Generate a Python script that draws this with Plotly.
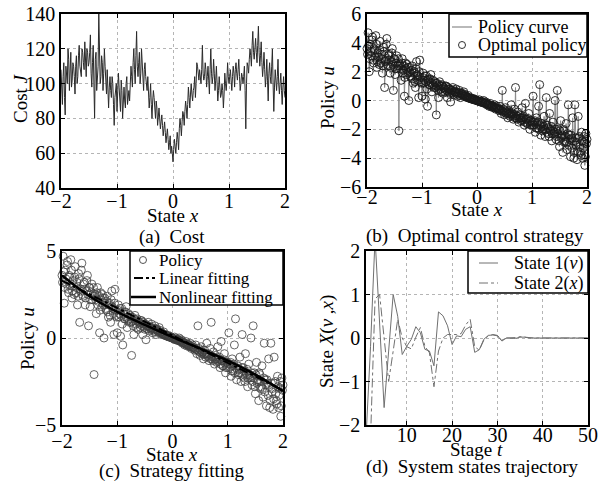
import numpy as np
import plotly.graph_objects as go

# ---------------- data ----------------
X_LIMITS = [-2.0, 2.0]

# (a) cost J at x = -2.000, -1.975, ..., 2.000
cost_J_even = [
    108, 88, 112, 82, 104, 120, 96, 118, 102, 110,
    94, 116, 104, 122, 108, 120, 112, 124, 104, 118,
    112, 128, 98, 122, 80, 118, 104, 140, 100, 116,
    96, 120, 100, 108, 86, 104, 92, 100, 76, 96,
    84, 106, 90, 102, 80, 98, 86, 104, 94, 90,
    110, 98, 120, 100, 130, 104, 118, 106, 114, 96,
    112, 100, 104, 86, 100, 80, 96, 84, 90, 76,
    86, 74, 82, 70, 78, 66, 74, 62, 70, 64,
    55, 68, 60, 72, 62, 80, 70, 84, 76, 90,
    80, 98, 86, 100, 90, 98, 92, 112, 104, 108,
    100, 122, 102, 112, 98, 110, 94, 120, 100, 114,
    96, 110, 90, 104, 92, 100, 86, 106, 96, 112,
    100, 108, 96, 110, 98, 112, 102, 114, 96, 106,
    100, 110, 74, 112, 106, 120, 110, 130, 114, 126,
    112, 133, 110, 124, 104, 118, 98, 114, 90, 112,
    100, 120, 84, 108, 96, 114, 94, 106, 88, 104,
    92,
]
# (a) cost J at the midpoints x = -1.9875, -1.9625, ..., 1.9875
cost_J_odd = [
    96, 104, 92, 110, 100, 114, 106, 98, 112, 104,
    110, 100, 116, 110, 104, 118, 108, 114, 120, 110,
    118, 106, 112, 100, 114, 96, 110, 118, 104, 112,
    106, 110, 94, 100, 98, 96, 104, 88, 92, 100,
    94, 98, 84, 96, 92, 90, 100, 88, 96, 102,
    104, 112, 108, 116, 110, 112, 100, 120, 104, 108,
    104, 96, 94, 92, 88, 90, 92, 80, 86, 82,
    80, 78, 76, 74, 72, 70, 68, 66, 60, 60,
    62, 64, 66, 68, 74, 76, 78, 82, 84, 86,
    88, 92, 94, 94, 96, 104, 100, 110, 102, 104,
    108, 106, 104, 108, 104, 102, 108, 106, 104, 106,
    102, 100, 96, 98, 94, 96, 94, 100, 102, 104,
    104, 102, 104, 106, 108, 106, 108, 104, 100, 104,
    104, 96, 100, 110, 114, 116, 122, 118, 120, 118,
    122, 118, 116, 112, 110, 108, 104, 102, 106, 104,
    110, 100, 98, 102, 104, 100, 100, 96, 98, 96,
]

# (b)/(c) optimal policy u: values at x = -2.00, -1.98, ..., 2.00
policy_u_even = [
    3.6, 4.7, 2.0, 3.9, 3.1, 4.4, 2.6, 3.5, 4.5, 2.3,
    3.3, 2.5, 4.1, 2.9, 1.9, 3.7, 0.9, 2.8, 4.3, 2.4,
    3.2, 1.9, 2.7, 3.6, 0.7, 2.9, 2.2, 3.1, 2.4, -2.1,
    2.5, 1.4, 2.9, 2.1, 0.3, 2.6, 1.8, 2.3, 0.0, 2.0,
    1.6, 2.4, 1.2, 2.0, 0.9, 2.7, 1.7, 0.2, 2.8, 1.3,
    0.3, 1.9, 1.4, 0.1, 1.7, -0.4, 1.5, 1.1, 1.8, 0.6,
    1.4, 0.9, 1.2, -1.0, 1.0, 0.2, 1.3, 0.8, 1.1, 0.5,
    0.9, 0.6, 1.0, 0.2, 0.8, 0.5, -0.1, 0.7, 0.9, 0.4,
    0.6, 0.8, 0.3, 0.5, 0.7, 0.2, 0.5, 0.4, 0.6, 0.3,
    0.3, 0.2, 0.35, 0.15, 0.2, 0.1, 0.15, 0.05, 0.1, 0.02,
    0.0, -0.05, 0.05, -0.1, -0.05, -0.15, 0.0, -0.2, -0.1, -0.3,
    -0.25, -0.4, -0.2, -0.45, -0.35, -0.5, -0.3, -0.6, -0.4, -0.55,
    -0.7, -0.4, -0.9, 0.7, -0.6, -1.0, -0.5, -0.8, -1.2, -0.7,
    -1.1, -0.3, -0.9, -1.3, -0.6, 0.9, -1.2, -0.8, -1.5, -1.0,
    -1.4, -0.5, -1.2, -1.7, -0.2, -1.3, -1.6, -0.9, -2.0, -1.4,
    -1.7, 0.3, -1.5, -2.2, -1.2, -1.9, -0.4, 1.1, -2.4, -1.6,
    -2.0, -1.1, -2.5, 0.2, -1.7, -2.3, -0.9, -2.1, -2.8, -1.5,
    -2.3, 0.0, -2.7, 0.7, -2.0, -3.2, -1.4, -2.5, -3.6, -2.1,
    -2.8, -1.6, -3.4, -0.3, -2.4, -3.9, -2.6, -1.2, -4.0, -0.3,
    -3.1, -4.1, -1.1, -2.5, -3.6, -2.2, -4.0, -2.9, -4.5, -2.3,
    -2.7,
]
# values at x = -1.99, -1.97, ..., 1.99
policy_u_odd = [
    3.2, 3.8, 2.9, 3.4, 4.2, 2.8, 3.6, 3.0, 3.9, 2.7,
    3.0, 3.5, 2.6, 3.2, 2.4, 3.4, 2.7, 3.9, 2.5, 3.1,
    2.8, 2.3, 3.3, 2.5, 2.9, 1.8, 2.6, 2.2, 2.9, 2.4,
    2.2, 2.6, 1.9, 2.4, 1.6, 2.2, 2.5, 1.9, 2.3, 1.7,
    2.1, 1.5, 1.9, 1.3, 2.2, 1.8, 1.4, 2.0, 1.6, 1.2,
    1.6, 1.2, 1.7, 1.3, 0.8, 1.4, 1.1, 1.5, 1.2, 1.0,
    1.1, 1.3, 0.9, 1.2, 0.7, 1.1, 1.0, 0.6, 1.0, 0.9,
    0.8, 1.0, 0.7, 0.9, 0.6, 0.8, 0.7, 0.5, 0.7, 0.6,
    0.5, 0.6, 0.45, 0.55, 0.35, 0.5, 0.4, 0.3, 0.45, 0.35,
    0.25, 0.2, 0.2, 0.15, 0.12, 0.1, 0.1, 0.05, 0.05, 0.0,
    -0.02, -0.05, -0.08, -0.1, -0.12, -0.1, -0.15, -0.2, -0.2, -0.25,
    -0.3, -0.3, -0.35, -0.4, -0.4, -0.45, -0.5, -0.5, -0.55, -0.6,
    -0.6, -0.65, -0.7, -0.75, -0.8, -0.7, -0.9, -0.85, -0.95, -0.9,
    -0.9, -1.0, -1.1, -0.95, -1.2, -1.05, -1.3, -1.1, -1.25, -1.2,
    -1.2, -1.35, -1.1, -1.5, -1.3, -1.6, -1.25, -1.45, -1.7, -1.4,
    -1.5, -1.7, -1.4, -1.9, -1.6, -1.5, -2.0, -1.7, -1.8, -2.1,
    -1.8, -2.0, -1.7, -2.2, -1.9, -2.5, -2.0, -1.8, -2.3, -2.1,
    -2.2, -2.0, -2.5, -2.3, -2.8, -2.1, -2.6, -2.4, -2.0, -2.9,
    -2.5, -2.9, -2.3, -3.1, -2.7, -2.4, -3.3, -2.8, -3.6, -2.6,
    -2.9, -3.5, -2.6, -3.2, -3.8, -2.8, -3.3, -2.5, -3.9, -3.0,
]

# (c) fitted strategies
lin_fit_x = [-2.0, 2.0]
lin_fit_u = [3.3, -3.0]
nl_fit_x = [-2.0, -1.5, -1.0, -0.5, 0.0, 0.5, 1.0, 1.5, 2.0]
nl_fit_u = [3.6, 2.4, 1.5, 0.75, 0.05, -0.6, -1.3, -2.1, -3.05]

# (d) system states trajectory
stage_t = list(range(1, 51))
state1_v = [
    -2.3, -0.2, 2.3, 0.2, -1.6, -0.3, 1.0, 0.5, -0.38, -0.19,
    -0.03, 0.26, 0.12, -0.26, -0.3, -0.64, 0.6, 0.51, 0.28, -0.15,
    0.05, 0.03, 0.2, 0.26, -0.33, -0.27, -0.03, 0.06, 0.07, 0.05,
    -0.07, 0.0, 0.0, -0.01, 0.02, 0.02, 0.0, 0.0, 0.0, 0.0,
    0.0, 0.0, 0.0, 0.0, 0.0, 0.0, 0.0, 0.0, 0.0, 0.0,
]
state2_x = [
    -3.2, -2.3, 0.9, 1.0, 0.0, -1.0, -0.3, 0.43, 0.0, -0.2,
    -0.25, 0.02, 0.24, -0.19, -0.34, -1.12, -0.3, 0.0, 0.08, 0.08,
    0.08, 0.1, 0.3, 0.43, -0.2, -0.28, -0.05, 0.05, 0.08, 0.06,
    -0.05, 0.0, 0.0, 0.01, 0.03, 0.02, 0.0, 0.0, 0.0, 0.0,
    0.0, 0.0, 0.0, 0.0, 0.0, 0.0, 0.0, 0.0, 0.0, 0.0,
]


def interleave(even, odd):
    out = np.empty(len(even) + len(odd))
    out[0::2] = even
    out[1::2] = odd
    return out


cost_J = interleave(cost_J_even, cost_J_odd)
cost_x = np.linspace(X_LIMITS[0], X_LIMITS[1], len(cost_J))
policy_u = interleave(policy_u_even, policy_u_odd)
policy_x = np.linspace(X_LIMITS[0], X_LIMITS[1], len(policy_u))

# ---------------- figure ----------------
W, H = 603, 483
FONT = "Liberation Serif"
TICK_SIZE = 20

GRAY_B = "#8a8a8a"
GRAY_D = "#707070"
C_MARK_B = "#1a1a1a"
C_MARK_C = "#404040"


def px(v):
    return v / W


def py(v):
    return 1 - v / H


fig = go.Figure()

# (a)
fig.add_trace(go.Scatter(x=cost_x, y=cost_J, mode="lines",
                         line=dict(color="#2a2a2a", width=1),
                         xaxis="x", yaxis="y"))
# (b)
fig.add_trace(go.Scatter(x=policy_x, y=policy_u, mode="lines", name="Policy curve",
                         line=dict(color=GRAY_B, width=1),
                         xaxis="x2", yaxis="y2"))
fig.add_trace(go.Scatter(x=policy_x, y=policy_u, mode="markers", name="Optimal policy",
                         marker=dict(symbol="circle-open", size=8, color=C_MARK_B,
                                     line=dict(width=0.9)),
                         cliponaxis=False, xaxis="x2", yaxis="y2"))
# (c)
fig.add_trace(go.Scatter(x=policy_x, y=policy_u, mode="markers", name="Policy",
                         marker=dict(symbol="circle-open", size=8, color=C_MARK_C,
                                     line=dict(width=0.8)),
                         cliponaxis=False, xaxis="x3", yaxis="y3"))
fig.add_trace(go.Scatter(x=lin_fit_x, y=lin_fit_u, mode="lines", name="Linear fitting",
                         line=dict(color="black", width=2, dash="dashdot"),
                         xaxis="x3", yaxis="y3"))
fig.add_trace(go.Scatter(x=nl_fit_x, y=nl_fit_u, mode="lines", name="Nonlinear fitting",
                         line=dict(color="black", width=2.5, shape="spline"),
                         xaxis="x3", yaxis="y3"))
# (d)
fig.add_trace(go.Scatter(x=stage_t, y=state1_v, mode="lines", name="State 1(v)",
                         line=dict(color=GRAY_D, width=1),
                         xaxis="x4", yaxis="y4"))
fig.add_trace(go.Scatter(x=stage_t, y=state2_x, mode="lines", name="State 2(x)",
                         line=dict(color=GRAY_D, width=1, dash="dashdot"),
                         xaxis="x4", yaxis="y4"))

axis_common = dict(
    showline=True, linecolor="black", linewidth=1.5, mirror="ticks",
    ticks="inside", ticklen=4, tickcolor="black", tickwidth=1,
    showgrid=True, gridcolor="#b5b5b5", griddash="dot", gridwidth=1,
    zeroline=False, tickfont=dict(family=FONT, size=TICK_SIZE, color="black"),
    fixedrange=True, automargin=False,
)

domains = {
    "a": ([px(61), px(285)], [py(188), py(14)]),
    "b": ([px(367), px(587)], [py(187), py(14)]),
    "c": ([px(62), px(283)], [py(425), py(251)]),
    "d": ([px(366), px(588)], [py(425), py(251)]),
}

fig.update_layout(
    xaxis=dict(axis_common, domain=domains["a"][0], range=X_LIMITS, dtick=1, anchor="y",
               ticklabelstandoff=-6),
    yaxis=dict(axis_common, domain=domains["a"][1], range=[40, 140], dtick=20, anchor="x"),
    xaxis2=dict(axis_common, domain=domains["b"][0], range=X_LIMITS, dtick=1, anchor="y2",
                ticklabelstandoff=-9),
    yaxis2=dict(axis_common, domain=domains["b"][1], range=[-6, 6], dtick=2, anchor="x2"),
    xaxis3=dict(axis_common, domain=domains["c"][0], range=X_LIMITS, dtick=1, anchor="y3",
                ticklabelstandoff=-3),
    yaxis3=dict(axis_common, domain=domains["c"][1], range=[-5, 5], dtick=5, anchor="x3"),
    xaxis4=dict(axis_common, domain=domains["d"][0], range=[1, 50],
                tickvals=[10, 20, 30, 40, 50], anchor="y4", ticklabelstandoff=-9),
    yaxis4=dict(axis_common, domain=domains["d"][1], range=[-2, 2], dtick=1, anchor="x4"),
    showlegend=False,
)

ann = []
shapes = []


def text(x, y, s, angle=0, size=19, anchor="center"):
    ann.append(dict(x=px(x), y=py(y), xref="paper", yref="paper", text=s,
                    showarrow=False, textangle=angle, xanchor=anchor, yanchor="middle",
                    font=dict(family=FONT, size=size, color="black")))


def box(x0, y0, x1, y1):
    shapes.append(dict(type="rect", xref="paper", yref="paper",
                       x0=px(x0), x1=px(x1), y0=py(y1), y1=py(y0),
                       fillcolor="white", line=dict(color="black", width=1.5),
                       layer="above"))


def key_line(x0, x1, y, color, width, dash="solid"):
    shapes.append(dict(type="line", xref="paper", yref="paper",
                       x0=px(x0), x1=px(x1), y0=py(y), y1=py(y),
                       line=dict(color=color, width=width, dash=dash), layer="above"))


def key_circle(cx, cy, r, color):
    shapes.append(dict(type="circle", xref="paper", yref="paper",
                       x0=px(cx - r), x1=px(cx + r), y0=py(cy + r), y1=py(cy - r),
                       line=dict(color=color, width=0.9), layer="above"))


# legend (b)
box(449, 14, 587, 57)
key_line(452, 472, 27, GRAY_B, 1.2)
text(476, 27, "Policy curve", size=18, anchor="left")
key_circle(462, 45, 3.5, C_MARK_B)
text(476, 45, "Optimal policy", size=18, anchor="left")

# legend (c)
box(130, 251, 283, 305)
key_circle(143, 260, 3.5, C_MARK_C)
text(157, 260, "Policy", size=17, anchor="left")
key_line(134, 155, 278, "black", 2, "dashdot")
text(157, 278, "Linear fitting", size=17, anchor="left")
key_line(131, 156, 297, "black", 2.5)
text(157, 297, "Nonlinear fitting", size=17, anchor="left")

# legend (d)
box(468, 251, 588, 293)
key_line(479, 498, 263, GRAY_D, 1)
text(512, 263, "State 1(<i>v</i>)", size=18, anchor="left")
key_line(479, 498, 283, GRAY_D, 1, "dashdot")
text(512, 283, "State 2(<i>x</i>)", size=18, anchor="left")

# axis titles
text(173, 216, "State <i>x</i>")
text(477, 210, "State <i>x</i>")
text(172, 454, "State <i>x</i>")
text(477, 449, "Stage <i>t</i>")
text(20, 98, "Cost <i>J</i>", -90)
text(327, 98, "Policy <i>u</i>", -90)
text(27, 339, "Policy <i>u</i>", -90)
text(327, 342, "State <i>X</i>(<i>v</i>\u00a0,<i>x</i>)", -90)
# captions
text(172, 237, "(a)\u00a0\u00a0Cost")
text(475, 236, "(b)\u00a0\u00a0Optimal control strategy")
text(172, 471, "(c)\u00a0\u00a0Strategy fitting")
text(472, 467, "(d)\u00a0\u00a0System states trajectory")

fig.update_layout(
    width=W, height=H, margin=dict(l=0, r=0, t=0, b=0),
    paper_bgcolor="white", plot_bgcolor="white",
    annotations=ann, shapes=shapes, font=dict(family=FONT, color="black"),
)

fig.write_html("out.html", config={"displayModeBar": False},
               post_script="document.body.style.margin='0px';")
